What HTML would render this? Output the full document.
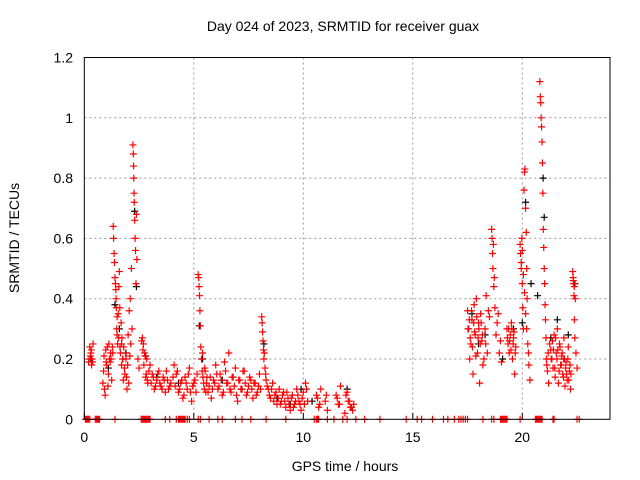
<!DOCTYPE html>
<html><head><meta charset="utf-8"><style>
html,body{margin:0;padding:0;background:#fff;}
svg{display:block;font-family:"Liberation Sans",sans-serif;}
</style></head><body>
<svg id="chart" width="640" height="480" viewBox="0 0 640 480">
<rect width="640" height="480" fill="#fff"/>
<text x="343" y="31" text-anchor="middle" font-size="14">Day 024 of 2023, SRMTID for receiver guax</text>
<text x="345" y="471" text-anchor="middle" font-size="14">GPS time / hours</text>
<text transform="translate(19,238) rotate(-90)" text-anchor="middle" font-size="14">SRMTID / TECUs</text>
<g id="grid"></g>
<g id="ticks"></g>
<g id="marks"></g>
<rect x="84.3" y="57.5" width="525.7" height="361.8" fill="none" stroke="#000" stroke-width="1"/>
</svg>
<script>
const xTicks=[0,5,10,15,20];
const yTicks=[0,0.2,0.4,0.6,0.8,1,1.2];
const yTickLabels=["0","0.2","0.4","0.6","0.8","1","1.2"];
const redT=[0.2,0.25,0.3,0.35,0.4,0.28,0.33,0.85,0.9,0.95,1.0,1.05,1.1,1.15,1.2,1.25,0.92,1.02,1.12,1.22,
1.32,1.34,1.36,1.38,1.4,1.42,1.44,1.46,1.48,1.5,1.52,1.55,1.58,1.6,1.62,1.65,1.68,1.7,1.72,1.75,1.78,1.8,1.85,1.9,1.95,2.0,2.05,2.1,2.15,2.18,
2.22,2.24,2.25,2.26,2.27,2.28,2.3,2.32,2.34,2.36,2.38,2.4,2.45,2.5,
2.65,2.7,2.75,2.8,2.85,2.9,2.95,3.0,3.1,3.2,3.3,3.4,3.5,3.6,3.7,3.8,3.9,
4.1,4.2,4.3,4.4,4.5,4.6,4.7,4.8,4.9,5.0,5.1,5.15,
5.2,5.22,5.24,5.26,5.28,5.3,5.32,5.35,5.38,5.4,5.45,5.5,5.55,5.6,5.7,5.8,5.9,6.0,6.1,6.2,6.3,6.4,6.5,6.6,6.7,6.8,6.9,7.0,7.1,7.2,7.3,7.4,7.5,7.6,7.7,7.8,7.9,8.0,
8.1,8.12,8.14,8.16,8.18,8.2,8.25,8.3,8.4,8.5,8.6,8.7,8.8,8.9,9.0,9.1,9.2,9.3,9.4,9.5,9.6,9.7,9.8,9.9,10.0,10.1,10.2,10.6,10.7,10.8,11.0,11.1,11.5,11.6,11.7,11.9,12.0,12.1,12.2,12.3,
17.5,17.55,17.6,17.65,17.7,17.75,17.8,17.85,17.9,17.95,18.0,18.05,18.1,18.15,18.2,18.3,18.35,18.4,18.5,
18.6,18.62,18.64,18.66,18.7,18.75,18.8,18.9,19.0,19.05,
19.3,19.35,19.4,19.45,19.5,19.55,19.6,19.65,19.7,
19.9,19.92,19.95,19.98,20.0,20.02,20.05,20.08,20.1,20.12,20.15,20.18,20.2,20.22,20.25,20.3,20.35,
20.8,20.82,20.84,20.86,20.88,20.9,20.92,20.94,20.96,20.98,21.0,21.02,21.04,21.06,21.08,21.1,21.15,21.2,
21.3,21.35,21.4,21.45,21.5,21.55,21.6,21.65,21.7,21.75,21.8,21.85,21.9,21.95,22.0,22.05,22.1,22.15,22.2,
22.3,22.32,22.34,22.36,22.38,22.4,22.45,22.5];
const redV=[0.19,0.24,0.22,0.2,0.25,0.21,0.18,0.12,0.21,0.08,0.19,0.24,0.15,0.2,0.22,0.13,0.1,0.18,0.25,0.2,
0.64,0.6,0.55,0.52,0.47,0.45,0.43,0.37,0.3,0.28,0.25,0.35,0.44,0.49,0.37,0.22,0.32,0.18,0.27,0.2,0.13,0.24,0.15,0.2,0.1,0.28,0.36,0.4,0.5,0.3,
0.91,0.88,0.84,0.8,0.75,0.72,0.66,0.6,0.56,0.45,0.68,0.53,0.2,0.17,
0.27,0.25,0.22,0.14,0.2,0.12,0.16,0.18,0.15,0.1,0.13,0.16,0.11,0.14,0.09,0.13,0.11,
0.18,0.15,0.09,0.12,0.07,0.14,0.1,0.17,0.06,0.12,0.09,0.15,
0.48,0.47,0.44,0.41,0.36,0.31,0.24,0.2,0.16,0.22,0.12,0.17,0.09,0.14,0.11,0.07,0.13,0.18,0.1,0.15,0.08,0.19,0.12,0.22,0.09,0.14,0.17,0.06,0.13,0.1,0.16,0.08,0.11,0.13,0.07,0.12,0.09,0.15,
0.34,0.32,0.29,0.26,0.23,0.2,0.17,0.13,0.1,0.07,0.12,0.08,0.05,0.1,0.06,0.09,0.04,0.07,0.03,0.08,0.05,0.1,0.06,0.03,0.09,0.12,0.06,0.08,0.04,0.1,0.06,0.03,0.08,0.05,0.11,0.02,0.09,0.06,0.04,0.05,
0.36,0.3,0.2,0.25,0.33,0.15,0.38,0.28,0.4,0.22,0.32,0.12,0.35,0.26,0.18,0.3,0.41,0.22,0.34,
0.63,0.6,0.55,0.5,0.44,0.37,0.28,0.35,0.26,0.19,
0.3,0.25,0.22,0.28,0.32,0.2,0.27,0.15,0.24,
0.58,0.55,0.5,0.6,0.45,0.37,0.3,0.76,0.82,0.83,0.7,0.62,0.5,0.4,0.25,0.18,0.13,
1.12,1.07,1.05,1.0,0.97,0.92,0.85,0.75,0.63,0.57,0.5,0.45,0.38,0.33,0.27,0.2,0.16,0.12,
0.23,0.2,0.17,0.28,0.14,0.22,0.3,0.12,0.25,0.18,0.21,0.15,0.27,0.11,0.19,0.13,0.24,0.16,0.1,
0.49,0.47,0.45,0.41,0.33,0.27,0.22,0.17];
const redT2=[0.22,0.32,0.38,0.88,0.98,1.08,1.18,1.28,1.3,1.45,1.5,1.57,1.63,1.7,1.76,1.83,1.88,1.93,1.98,2.03,2.08,2.12,
2.62,2.68,2.72,2.78,2.83,2.88,3.05,3.15,3.25,3.35,3.45,3.55,3.65,3.75,3.85,3.95,
4.05,4.15,4.25,4.35,4.45,4.55,4.65,4.75,4.85,4.95,5.05,5.42,5.48,5.52,5.58,5.65,5.75,5.85,5.95,6.05,6.15,6.25,6.35,6.45,6.55,6.65,6.75,6.85,6.95,7.05,7.15,7.25,7.35,7.45,7.55,7.65,7.75,7.85,7.95,8.05,
8.22,8.28,8.35,8.45,8.55,8.65,8.75,8.85,8.95,9.05,9.15,9.25,9.35,9.45,9.55,9.65,9.75,9.85,9.95,10.05,10.15,10.65,10.75,11.05,11.55,11.65,11.95,12.05,12.15,12.25,
17.52,17.58,17.62,17.68,17.72,17.78,17.82,17.88,17.92,17.98,18.02,18.08,18.12,18.18,18.25,18.33,18.45,18.68,18.72,18.85,18.95,
19.32,19.38,19.42,19.48,19.52,19.58,19.62,19.68,19.95,20.0,20.05,20.1,20.15,20.2,20.28,
21.12,21.18,21.25,21.32,21.38,21.42,21.48,21.52,21.58,21.62,21.68,21.72,21.78,21.82,21.88,21.92,21.98,22.02,22.08,22.12,22.18,22.22,22.33,22.37,22.42];
const redV2=[0.2,0.23,0.19,0.16,0.23,0.11,0.19,0.24,0.22,0.4,0.34,0.27,0.24,0.25,0.2,0.17,0.22,0.14,0.18,0.12,0.21,0.25,
0.26,0.23,0.18,0.21,0.15,0.13,0.12,0.14,0.11,0.15,0.12,0.1,0.13,0.16,0.1,0.12,
0.14,0.11,0.16,0.1,0.13,0.08,0.12,0.15,0.09,0.11,0.13,0.14,0.1,0.16,0.12,0.09,0.14,0.1,0.12,0.15,0.11,0.13,0.09,0.16,0.12,0.1,0.14,0.11,0.08,0.13,0.1,0.16,0.12,0.09,0.14,0.1,0.12,0.08,0.11,0.1,
0.22,0.15,0.11,0.08,0.1,0.06,0.09,0.07,0.05,0.08,0.06,0.09,0.05,0.07,0.04,0.06,0.08,0.05,0.07,0.05,0.1,0.07,0.05,0.08,0.07,0.05,0.08,0.06,0.04,0.03,
0.3,0.33,0.27,0.36,0.24,0.32,0.29,0.21,0.34,0.27,0.3,0.25,0.32,0.28,0.2,0.25,0.36,0.58,0.47,0.32,0.22,
0.27,0.3,0.26,0.23,0.3,0.25,0.29,0.22,0.52,0.56,0.48,0.42,0.35,0.3,0.22,
0.18,0.22,0.25,0.2,0.26,0.23,0.17,0.27,0.2,0.23,0.16,0.24,0.18,0.22,0.14,0.2,0.17,0.15,0.2,0.13,0.18,0.15,0.46,0.44,0.4];
const blackT=[0.3,1.1,1.4,1.6,1.9,2.3,2.38,2.8,3.3,4.3,5.25,5.4,6.3,7.2,8.2,8.8,9.4,9.9,10.4,12.0,17.7,18.0,18.3,19.1,19.6,20.0,20.15,20.4,20.7,20.95,21.0,21.3,21.6,21.9,22.1,22.4];
const blackV=[0.2,0.17,0.38,0.3,0.22,0.69,0.44,0.21,0.14,0.12,0.31,0.2,0.13,0.1,0.25,0.07,0.05,0.1,0.06,0.1,0.35,0.25,0.28,0.2,0.3,0.32,0.72,0.45,0.41,0.8,0.67,0.27,0.33,0.2,0.28,0.45];
const zeroT=[0.05,0.1,0.15,0.2,0.25,0.5,0.55,0.6,0.65,0.7,1.4,2.6,2.65,2.7,2.75,2.8,2.85,2.9,2.95,3.0,3.7,3.9,4.2,4.3,4.35,4.4,4.45,4.5,4.55,4.6,4.7,4.8,5.2,5.3,5.7,6.1,6.3,6.9,7.2,7.6,8.3,9.2,10.5,10.6,10.65,10.7,11.1,11.4,11.8,12.0,12.4,12.8,13.5,14.7,15.2,15.4,15.9,16.4,16.6,16.9,17.1,17.2,17.3,17.4,17.5,18.2,18.6,18.7,19.0,19.05,19.1,19.15,19.2,19.25,19.3,19.9,20.6,20.65,20.7,20.75,20.8,20.85,20.9,21.4,21.45,22.5,22.6];
const X0=84.3,XS=21.9,Y0=419.3,YS=301.5;
function xs(t){return X0+t*XS;}
function ys(v){return Y0-v*YS;}
const NS="http://www.w3.org/2000/svg";
const grid=document.getElementById('grid'),ticks=document.getElementById('ticks'),marks=document.getElementById('marks');
function mk(tag,attrs,parent){const e=document.createElementNS(NS,tag);for(const k in attrs)e.setAttribute(k,attrs[k]);parent.appendChild(e);return e;}
xTicks.forEach(t=>{
 const x=xs(t);
 if(t>0){const g=mk('line',{x1:x,y1:57.5,x2:x,y2:419.3,stroke:'#999','stroke-dasharray':'2,3'},grid);
 
 }
 const l=mk('line',{x1:x,y1:419.3,x2:x,y2:413,stroke:'#000'},ticks);
 
 
 const tx=mk('text',{x:x,y:442,'text-anchor':'middle','font-size':14},ticks);
 tx.textContent=String(t);
 
 
});
yTicks.forEach((v,i)=>{
 const y=ys(v);
 if(v>0&&v<1.2){const g=mk('line',{x1:84.3,y1:y,x2:610,y2:y,stroke:'#999','stroke-dasharray':'2,3'},grid);
 
 }
 const tx=mk('text',{x:73,y:y+5,'text-anchor':'end','font-size':14},ticks);
 tx.textContent=yTickLabels[i];
 
 
});
function plus(t,v,color,name){
 const x=xs(t),y=ys(v);
 const p=mk('path',{d:`M${x-3.5},${y}H${x+3.5}M${x},${y-3.5}V${y+3.5}`,stroke:color,'stroke-width':1.2,fill:'none'},marks);
 
 
}
blackT.forEach((t,i)=>plus(t,blackV[i],'#000','black-point'));
redT.forEach((t,i)=>plus(t,redV[i],'#f00','red-point'));
redT2.forEach((t,i)=>plus(t,redV2[i],'#f00','red-point'));
zeroT.forEach(t=>plus(t,0,'#f00','zero-point'));
</script>
</body></html>
